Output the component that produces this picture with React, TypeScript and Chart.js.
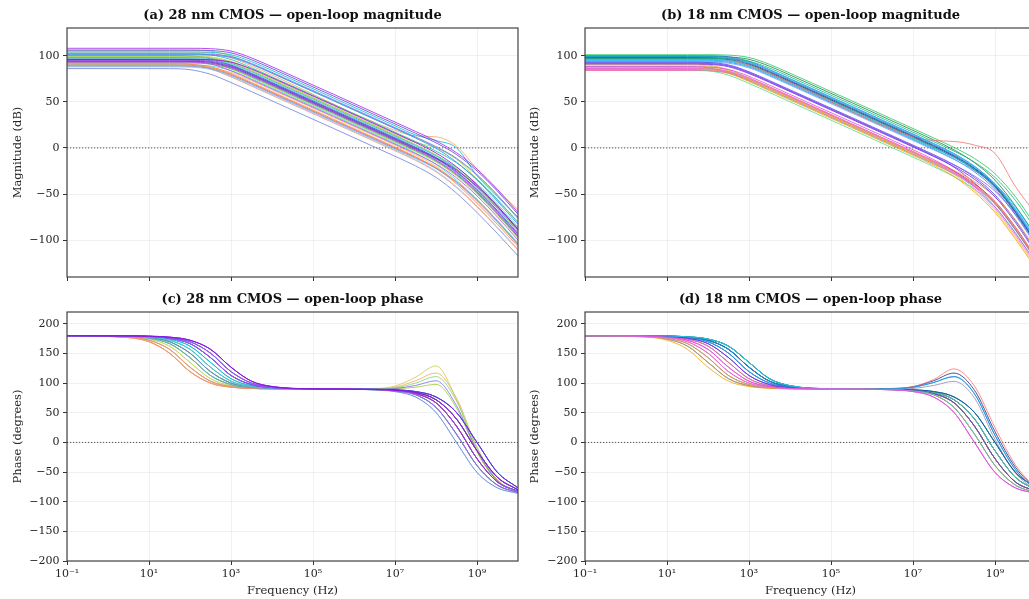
import { useEffect, useRef } from "react";
import { Chart, registerables } from "chart.js";

Chart.register(...registerables);

// Frequency knots (Hz) at which each curve is sampled
const MAG_FREQ = [0.1, 31.62, 100, 316.2, 1000, 3162, 10000, 1e7, 3.162e7, 1e8, 3.162e8, 1e9, 3.162e9, 1e10];
const PHASE_FREQ = [0.1, 3.162, 10, 31.62, 100, 316.2, 1000, 3162, 10000, 1e5, 3.162e6, 1e7, 3.162e7, 1e8, 3.162e8, 1e9, 3.162e9, 1e10];

const FREQ_TICKS = [1e-1, 1e1, 1e3, 1e5, 1e7, 1e9];
const MAG_TICKS = [-100, -50, 0, 50, 100];
const PHASE_TICKS = [-200, -150, -100, -50, 0, 50, 100, 150, 200];

const COLORS_28 = [
  "#e8603c", "#f4a460", "#ffb347", "#c8c84a", "#b5e655", "#7fd36b", "#4caf50", "#3cb371",
  "#66cdaa", "#20b2aa", "#40e0d0", "#00bcd4", "#87cefa", "#4a90d9", "#3050e0", "#6a7fdb",
  "#e9967a", "#ff7f50", "#9acd32", "#48d1cc", "#6495ed", "#1e90ff",
  "#5b3fd0", "#8a2be2", "#9932cc", "#a020f0", "#7b68ee", "#b048f0", "#9400d3", "#7a1fe0",
];

const MAG_28 = [
  [90, 90, 89.6, 87, 79.6, 70, 60, 0, -10.2, -21.5, -36.5, -56, -79, -104],
  [104, 104, 103.9, 102.8, 97.8, 88.9, 79, 19, 13, 12, 2, -23, -46, -67],
  [88, 88, 87.9, 86.8, 81.8, 72.9, 63, 2.9, -7.5, -20, -37, -58, -81, -105],
  [100, 100, 99.9, 98.8, 93.8, 84.9, 75, 15, 6, 0, -12, -34, -57, -80],
  [96, 96, 95.6, 93, 85.6, 76, 66, 6, -4.2, -15.5, -30.5, -50, -73, -98],
  [106, 106, 105.9, 104.8, 99.8, 90.9, 81, 21, 10.9, 0.5, -12.2, -30, -52, -77],
  [92, 92, 91.9, 90.8, 85.8, 76.9, 67, 7, -3.2, -14.5, -29.5, -49, -72, -97],
  [100, 100, 99.6, 97, 89.6, 80, 70, 10, -0.1, -10.5, -23.2, -41, -63, -88],
  [94, 94, 93.9, 92.8, 87.8, 78.9, 69, 9, -1.2, -12.5, -27.5, -47, -70, -95],
  [102, 102, 101.9, 100.8, 95.8, 86.9, 77, 17, 6.9, -3.5, -16.2, -34, -56, -81],
  [90, 90, 89.9, 88.8, 83.8, 74.9, 65, 4.9, -5.5, -18, -35, -56, -79, -103],
  [104, 104, 104, 103.6, 101, 93.6, 84, 24, 14, 8, 0, -30, -53, -75],
  [88, 88, 87.6, 85, 77.6, 68, 58, -2.1, -12.5, -25, -42, -63, -86, -110],
  [98, 98, 97.9, 96.8, 91.8, 82.9, 73, 13, 2.8, -8.5, -23.5, -43, -66, -91],
  [96, 96, 95.9, 94.8, 89.8, 80.9, 71, 11, 0.8, -10.5, -25.5, -45, -68, -93],
  [86, 85.9, 84.8, 79.8, 70.9, 61, 51, -9.1, -19.5, -32, -49, -70, -93, -117],
  [92, 91.9, 90.8, 85.8, 76.9, 67, 57, -3.1, -13.5, -26, -43, -64, -87, -111],
  [91, 91, 90.6, 88, 80.6, 71, 61, 0.9, -9.5, -22, -39, -60, -83, -107],
  [99, 99, 98.9, 97.8, 92.8, 83.9, 74, 14, 3.8, -7.5, -22.5, -42, -65, -90],
  [97, 97, 96.9, 95.8, 90.8, 81.9, 72, 12, 1.9, -8.5, -21.2, -39, -61, -86],
  [89, 89, 88.6, 86, 78.6, 69, 59, -1, -11.2, -22.5, -37.5, -57, -80, -105],
  [101, 101, 101, 100.6, 98, 90.6, 81, 21, 10.8, -0.5, -15.5, -35, -58, -83],
  [106, 106, 106, 105.6, 103, 95.6, 86, 26, 15.9, 5.5, -7.2, -25, -47, -72],
  [95, 95, 94.9, 93.8, 88.8, 79.9, 70, 10, -0.2, -11.5, -26.5, -46, -69, -94],
  [93, 93, 92.9, 91.8, 86.8, 77.9, 68, 8, -2.2, -13.5, -28.5, -48, -71, -96],
  [108, 108, 108, 107.6, 105, 97.6, 88, 28, 17.9, 7.5, -5.2, -23, -45, -70],
  [102, 102, 102, 101.6, 99, 91.6, 82, 22, 11.9, 1.5, -11.2, -29, -51, -76],
  [94, 94, 93.6, 91, 83.6, 74, 64, 4, -6.2, -17.5, -32.5, -52, -75, -100],
  [96, 96, 96, 95.6, 93, 85.6, 76, 16, 5.8, -5.5, -20.5, -40, -63, -88],
  [94, 94, 93.9, 92.8, 87.8, 78.9, 69, 9, -1.1, -11.5, -24.2, -42, -64, -89],
];

const PHASE_28 = [
  [179.9, 176.8, 169.9, 150.6, 119.4, 100.1, 93.2, 91.0, 90.3, 90.1, 89.2, 87.6, 82.5, 66.8, 27.5, -27.5, -66.8, -82.5],
  [179.9, 177.6, 172.4, 157.1, 126.9, 103.3, 94.3, 91.4, 90.4, 90.2, 90.5, 93, 104, 117, 75, -8, -63, -83],
  [179.9, 176.8, 169.9, 150.6, 119.4, 100.1, 93.2, 91.0, 90.3, 90.1, 89.0, 86.8, 80.5, 59, 14, -39, -72, -84.5],
  [179.9, 178.2, 174.3, 162.5, 135, 107.5, 95.7, 91.8, 90.6, 90.2, 91, 95, 110, 129, 72, -15, -66, -84],
  [179.9, 178.2, 174.3, 162.5, 135, 107.5, 95.7, 91.8, 90.6, 90.2, 89.2, 87.6, 82.5, 66.8, 27.5, -27.5, -66.8, -82.5],
  [180, 178.6, 175.7, 166.7, 143.1, 112.9, 97.6, 92.4, 90.8, 90.2, 90.5, 92, 100, 111, 70, -10, -64, -83],
  [180, 179, 176.8, 169.9, 150.6, 119.4, 100.1, 93.2, 91.0, 90.2, 89.0, 86.8, 80.5, 59, 14, -39, -72, -84.5],
  [180, 179, 176.8, 169.9, 150.6, 119.4, 100.1, 93.2, 91.0, 90.2, 89.4, 88.2, 84.3, 72, 39.5, -14, -59, -80],
  [180, 178.6, 175.7, 166.7, 143.1, 112.9, 97.6, 92.4, 90.8, 90.2, 89.2, 87.6, 82.5, 66.8, 27.5, -27.5, -66.8, -82.5],
  [180, 179.4, 178.2, 174.3, 162.5, 135, 107.5, 95.7, 91.8, 90.3, 89.4, 88.2, 84.3, 72, 39.5, -14, -59, -80],
  [180, 179.2, 177.6, 172.4, 157.1, 126.9, 103.3, 94.3, 91.4, 90.2, 89.0, 86.8, 80.5, 59, 14, -39, -72, -84.5],
  [180, 179.4, 178.2, 174.3, 162.5, 135, 107.5, 95.7, 91.8, 90.3, 89.6, 88.7, 85.8, 76.7, 50.5, 0, -50.5, -76.7],
  [179.9, 177.6, 172.4, 157.1, 126.9, 103.3, 94.3, 91.4, 90.4, 90.1, 88.7, 85.8, 76.7, 50.5, 0, -50.5, -76.7, -85.8],
  [180, 179.2, 177.6, 172.4, 157.1, 126.9, 103.3, 94.3, 91.4, 90.2, 89.2, 87.6, 82.5, 66.8, 27.5, -27.5, -66.8, -82.5],
  [180, 179.6, 178.6, 175.7, 166.7, 143.1, 112.9, 97.6, 92.4, 90.3, 89.4, 88.2, 84.3, 72, 39.5, -14, -59, -80],
  [180, 179, 176.8, 169.9, 150.6, 119.4, 100.1, 93.2, 91.0, 90.1, 88.7, 85.8, 76.7, 50.5, 0, -50.5, -76.7, -85.8],
  [179.9, 176.8, 169.9, 150.6, 119.4, 100.1, 93.2, 91.0, 90.3, 90.1, 89.4, 88.2, 84.3, 72, 39.5, -14, -59, -80],
  [179.9, 177.6, 172.4, 157.1, 126.9, 103.3, 94.3, 91.4, 90.4, 90.2, 89.2, 87.6, 82.5, 66.8, 27.5, -27.5, -66.8, -82.5],
  [180, 178.6, 175.7, 166.7, 143.1, 112.9, 97.6, 92.4, 90.8, 90.2, 90, 90.5, 93, 98, 58, -16, -65, -83],
  [180, 179.2, 177.6, 172.4, 157.1, 126.9, 103.3, 94.3, 91.4, 90.2, 89.4, 88.2, 84.3, 72, 39.5, -14, -59, -80],
  [180, 178.6, 175.7, 166.7, 143.1, 112.9, 97.6, 92.4, 90.8, 90.2, 89.0, 86.8, 80.5, 59, 14, -39, -72, -84.5],
  [180, 179.6, 178.6, 175.7, 166.7, 143.1, 112.9, 97.6, 92.4, 90.3, 89.6, 88.7, 85.8, 76.7, 50.5, 0, -50.5, -76.7],
  [180, 179.7, 179, 176.8, 169.9, 150.6, 119.4, 100.1, 93.2, 90.3, 89.6, 88.7, 85.8, 76.7, 50.5, 0, -50.5, -76.7],
  [180, 179.6, 178.6, 175.7, 166.7, 143.1, 112.9, 97.6, 92.4, 90.3, 89.2, 87.6, 82.5, 66.8, 27.5, -27.5, -66.8, -82.5],
  [180, 179.7, 179, 176.8, 169.9, 150.6, 119.4, 100.1, 93.2, 90.3, 89.4, 88.2, 84.3, 72, 39.5, -14, -59, -80],
  [180, 179.8, 179.2, 177.6, 172.4, 157.1, 126.9, 103.3, 94.3, 90.4, 89.2, 87.6, 82.5, 66.8, 27.5, -27.5, -66.8, -82.5],
  [180, 179.7, 179, 176.8, 169.9, 150.6, 119.4, 100.1, 93.2, 90.3, 90, 91, 96, 104, 62, -14, -65, -83],
  [180, 179.6, 178.6, 175.7, 166.7, 143.1, 112.9, 97.6, 92.4, 90.3, 89.0, 86.8, 80.5, 59, 14, -39, -72, -84.5],
  [180, 179.8, 179.2, 177.6, 172.4, 157.1, 126.9, 103.3, 94.3, 90.4, 89.4, 88.2, 84.3, 72, 39.5, -14, -59, -80],
  [180, 179.8, 179.2, 177.6, 172.4, 157.1, 126.9, 103.3, 94.3, 90.4, 89.6, 88.7, 85.8, 76.7, 50.5, 0, -50.5, -76.7],
];

const COLORS_18 = [
  "#22c55e", "#15803d", "#2563eb", "#1e2a78", "#3b82f6", "#60a5fa", "#4f46e5", "#7c3aed",
  "#0d9488", "#06b6d4", "#e11d48", "#ec4899", "#f87171", "#a3e635", "#facc15", "#fb923c",
  "#8b8fa8", "#8b5cf6", "#4ade80", "#1e3a8a",
  "#0ea5e9", "#10b981", "#6d28d9", "#f59e0b", "#fb7185", "#38bdf8",
  "#e879f9", "#d946ef",
];

const MAG_18 = [
  [101, 101, 101, 100.6, 98, 90.6, 81, 21, 10.9, 0.5, -11.5, -28, -53, -85],
  [99, 99, 99, 98.6, 96, 88.6, 79, 19, 8.8, -2.2, -16, -35, -63, -96],
  [100, 100, 99.9, 98.8, 93.8, 84.9, 75, 15, 4.8, -6.2, -20, -39, -67, -100],
  [97, 97, 96.9, 95.8, 90.8, 81.9, 72, 12, 1.8, -9.2, -23, -42, -70, -103],
  [94, 94, 93.9, 92.8, 87.8, 78.9, 69, 9, -1.2, -12.2, -26, -45, -73, -106],
  [93, 93, 92.9, 91.8, 86.8, 77.9, 68, 8, -2.1, -12.5, -24.5, -41, -66, -98],
  [93, 93, 92.6, 90, 82.6, 73, 63, 3, -7.2, -18.2, -32, -51, -79, -112],
  [92, 92, 91.6, 89, 81.6, 72, 62, 1.9, -8.6, -21, -38, -60, -89, -121],
  [96, 96, 95.9, 94.8, 89.8, 80.9, 71, 11, 0.8, -10.2, -24, -43, -71, -104],
  [95, 95, 94.9, 93.8, 88.8, 79.9, 70, 10, -0.1, -10.5, -22.5, -39, -64, -96],
  [86, 86, 85.6, 83, 75.6, 66, 56, -4, -14.2, -25.2, -39, -58, -86, -119],
  [84, 84, 83.6, 81, 73.6, 64, 54, -6, -16.2, -27.2, -41, -60, -88, -121],
  [96, 96, 95.9, 94.8, 89.8, 80.9, 71, 12, 8, 7, 3, -6, -42, -72],
  [90, 89.9, 88.8, 83.8, 74.9, 65, 55, -5, -15.2, -26.2, -40, -59, -87, -120],
  [89, 88.9, 87.8, 82.8, 73.9, 64, 54, -6.1, -16.6, -29, -46, -68, -97, -129],
  [91, 90.9, 89.8, 84.8, 75.9, 66, 56, -4, -14.1, -24.5, -36.5, -53, -78, -110],
  [88, 87.9, 86.8, 81.8, 72.9, 63, 53, -7, -17.2, -28.2, -42, -61, -89, -122],
  [92, 92, 91.6, 89, 81.6, 72, 62, 2, -8.1, -18.5, -30.5, -47, -72, -104],
  [85, 84.9, 83.8, 78.8, 69.9, 60, 50, -10, -20.2, -31.2, -45, -64, -92, -125],
  [98, 98, 97.9, 96.8, 91.8, 82.9, 73, 13, 2.8, -8.2, -22, -41, -69, -102],
  [99, 99, 98.9, 97.8, 92.8, 83.9, 74, 14, 3.8, -7.2, -21, -40, -68, -101],
  [97, 97, 97, 96.6, 94, 86.6, 77, 17, 6.9, -3.5, -15.5, -32, -57, -89],
  [91, 91, 90.6, 88, 80.6, 71, 61, 1, -9.2, -20.2, -34, -53, -81, -114],
  [87, 86.9, 85.8, 80.8, 71.9, 62, 52, -8.1, -18.6, -31, -48, -70, -99, -131],
  [85, 85, 84.6, 82, 74.6, 65, 55, -5, -15.2, -26.2, -40, -59, -87, -120],
  [95, 95, 95, 94.6, 92, 84.6, 75, 15, 4.8, -6.2, -20, -39, -67, -100],
  [86, 86, 85.6, 83, 75.6, 66, 56, -4.1, -14.6, -27, -44, -66, -95, -127],
  [88, 88, 87.6, 85, 77.6, 68, 58, -2, -12.6, -25, -42, -64, -93, -125],
];

const PHASE_18 = [
  [180, 179.8, 179.4, 178.2, 174.3, 162.5, 135, 107.5, 95.7, 90.5, 89.6, 88.7, 85.8, 76.7, 50.5, 0, -50.5, -76.7],
  [180, 179.8, 179.2, 177.6, 172.4, 157.1, 126.9, 103.3, 94.3, 90.4, 89.4, 88.2, 84.3, 72, 39.5, -14, -59, -80],
  [180, 179.8, 179.4, 178.2, 174.3, 162.5, 135, 107.5, 95.7, 90.5, 90.5, 93, 101, 111, 82, 12, -46, -80],
  [180, 179.8, 179.2, 177.6, 172.4, 157.1, 126.9, 103.3, 94.3, 90.4, 91, 94, 104, 117, 88, 18, -42, -79],
  [180, 179.7, 179, 176.8, 169.9, 150.6, 119.4, 100.1, 93.2, 90.3, 89.4, 88.2, 84.3, 72, 39.5, -14, -59, -80],
  [180, 179.6, 178.6, 175.7, 166.7, 143.1, 112.9, 97.6, 92.4, 90.3, 89.6, 88.7, 85.8, 76.7, 50.5, 0, -50.5, -76.7],
  [180, 179.4, 178.2, 174.3, 162.5, 135, 107.5, 95.7, 91.8, 90.3, 89.2, 87.6, 82.5, 66.8, 27.5, -27.5, -66.8, -82.5],
  [180, 179.7, 179, 176.8, 169.9, 150.6, 119.4, 100.1, 93.2, 90.3, 89.2, 87.6, 82.5, 66.8, 27.5, -27.5, -66.8, -82.5],
  [180, 179.8, 179.4, 178.2, 174.3, 162.5, 135, 107.5, 95.7, 90.5, 89.4, 88.2, 84.3, 72, 39.5, -14, -59, -80],
  [180, 179.7, 179, 176.8, 169.9, 150.6, 119.4, 100.1, 93.2, 90.3, 89.6, 88.7, 85.8, 76.7, 50.5, 0, -50.5, -76.7],
  [180, 179, 176.8, 169.9, 150.6, 119.4, 100.1, 93.2, 91.0, 90.2, 89.2, 87.6, 82.5, 66.8, 27.5, -27.5, -66.8, -82.5],
  [180, 179.2, 177.6, 172.4, 157.1, 126.9, 103.3, 94.3, 91.4, 90.2, 89.0, 86.8, 80.5, 59, 14, -39, -72, -84.5],
  [180, 179.4, 178.2, 174.3, 162.5, 135, 107.5, 95.7, 91.8, 90.3, 91, 94, 106, 124, 95, 25, -38, -78],
  [179.9, 178.2, 174.3, 162.5, 135, 107.5, 95.7, 91.8, 90.6, 90.2, 89.0, 86.8, 80.5, 59, 14, -39, -72, -84.5],
  [180, 178.6, 175.7, 166.7, 143.1, 112.9, 97.6, 92.4, 90.8, 90.2, 89.2, 87.6, 82.5, 66.8, 27.5, -27.5, -66.8, -82.5],
  [179.9, 178.2, 174.3, 162.5, 135, 107.5, 95.7, 91.8, 90.6, 90.2, 89.2, 87.6, 82.5, 66.8, 27.5, -27.5, -66.8, -82.5],
  [179.9, 178.2, 174.3, 162.5, 135, 107.5, 95.7, 91.8, 90.6, 90.2, 90, 91, 96, 103, 75, 5, -52, -81],
  [180, 179.6, 178.6, 175.7, 166.7, 143.1, 112.9, 97.6, 92.4, 90.3, 89.4, 88.2, 84.3, 72, 39.5, -14, -59, -80],
  [180, 178.6, 175.7, 166.7, 143.1, 112.9, 97.6, 92.4, 90.8, 90.2, 89.4, 88.2, 84.3, 72, 39.5, -14, -59, -80],
  [180, 179.8, 179.2, 177.6, 172.4, 157.1, 126.9, 103.3, 94.3, 90.4, 89.6, 88.7, 85.8, 76.7, 50.5, 0, -50.5, -76.7],
  [180, 179.8, 179.2, 177.6, 172.4, 157.1, 126.9, 103.3, 94.3, 90.4, 90.5, 93, 101, 111, 82, 12, -46, -80],
  [180, 179.8, 179.4, 178.2, 174.3, 162.5, 135, 107.5, 95.7, 90.5, 89.2, 87.6, 82.5, 66.8, 27.5, -27.5, -66.8, -82.5],
  [180, 179.6, 178.6, 175.7, 166.7, 143.1, 112.9, 97.6, 92.4, 90.3, 89.2, 87.6, 82.5, 66.8, 27.5, -27.5, -66.8, -82.5],
  [179.9, 177.6, 172.4, 157.1, 126.9, 103.3, 94.3, 91.4, 90.4, 90.2, 89.0, 86.8, 80.5, 59, 14, -39, -72, -84.5],
  [180, 178.6, 175.7, 166.7, 143.1, 112.9, 97.6, 92.4, 90.8, 90.1, 88.7, 85.8, 76.7, 50.5, 0, -50.5, -76.7, -85.8],
  [180, 179.8, 179.4, 178.2, 174.3, 162.5, 135, 107.5, 95.7, 90.5, 89.0, 86.8, 80.5, 59, 14, -39, -72, -84.5],
  [180, 179, 176.8, 169.9, 150.6, 119.4, 100.1, 93.2, 91.0, 90.1, 88.7, 85.8, 76.7, 50.5, 0, -50.5, -76.7, -85.8],
  [180, 179.2, 177.6, 172.4, 157.1, 126.9, 103.3, 94.3, 91.4, 90.1, 88.7, 85.8, 76.7, 50.5, 0, -50.5, -76.7, -85.8],
];

const FONT_FAMILY = '"DejaVu Serif", serif';
const TEXT_COLOR = "#262626";

const SUP: Record<string, string> = {
  "-": "\u207B", "0": "\u2070", "1": "\u00B9", "2": "\u00B2", "3": "\u00B3", "4": "\u2074",
  "5": "\u2075", "6": "\u2076", "7": "\u2077", "8": "\u2078", "9": "\u2079",
};

function freqLabel(v: number): string {
  const e = Math.round(Math.log10(v));
  return "10" + String(e).split("").map((c) => SUP[c] || c).join("");
}

function numLabel(v: number): string {
  return v < 0 ? "\u2212" + Math.abs(v) : String(v);
}

function rgba(hex: string, a: number): string {
  const n = parseInt(hex.slice(1), 16);
  return `rgba(${(n >> 16) & 255},${(n >> 8) & 255},${n & 255},${a})`;
}

const framePlugin = {
  id: "frame",
  beforeDatasetsDraw(chart: any) {
    const { ctx, chartArea: a, scales } = chart;
    const y0 = scales.y.getPixelForValue(0);
    ctx.save();
    ctx.beginPath();
    ctx.setLineDash([1.2, 1.8]);
    ctx.strokeStyle = "rgba(60,60,60,0.9)";
    ctx.lineWidth = 1;
    ctx.moveTo(a.left, y0);
    ctx.lineTo(a.right, y0);
    ctx.stroke();
    ctx.restore();
  },
  afterDraw(chart: any, _args: any, opts: any) {
    const { ctx, chartArea: a } = chart;
    ctx.save();
    ctx.strokeStyle = "#444";
    ctx.lineWidth = 1.2;
    ctx.strokeRect(a.left, a.top, a.right - a.left, a.bottom - a.top);
    ctx.font = `bold 13px ${FONT_FAMILY}`;
    ctx.fillStyle = "#111";
    ctx.textAlign = "center";
    ctx.textBaseline = "middle";
    ctx.fillText(opts.title, (a.left + a.right) / 2, a.top - 12);
    ctx.restore();
  },
};

type Spec = {
  title: string;
  freq: number[];
  curves: number[][];
  colors: string[];
  yMin: number;
  yMax: number;
  yTicks: number[];
  yTitle: string;
  showX: boolean;
  left: number;
  top: number;
  width: number;
  height: number;
  padTop: number;
  padRight: number;
  yAxisWidth: number;
  xAxisHeight: number;
  yTitlePad: number;
};

function Panel({ spec }: { spec: Spec }) {
  const ref = useRef<HTMLCanvasElement>(null);
  useEffect(() => {
    if (!ref.current) return;
    const n = spec.curves.length;
    const datasets = spec.curves.map((vals, i) => ({
      data: vals.map((y, j) => ({ x: spec.freq[j], y })),
      borderColor: rgba(spec.colors[i], 0.8),
      borderWidth: 1,
      pointRadius: 0,
      fill: false,
      cubicInterpolationMode: "monotone" as const,
      order: n - i,
    }));
    const tickFont = { family: FONT_FAMILY, size: 11 };
    const titleFont = { family: FONT_FAMILY, size: 11.5 };
    const grid = {
      color: "rgba(0,0,0,0.07)",
      lineWidth: 0.8,
      tickLength: 4,
      tickColor: "#333",
      tickWidth: 1,
      drawTicks: true,
    };
    const chart = new Chart(ref.current, {
      type: "line",
      data: { datasets },
      plugins: [framePlugin],
      options: {
        responsive: false,
        maintainAspectRatio: false,
        animation: false,
        events: [],
        layout: { padding: { top: spec.padTop, right: spec.padRight, left: 0, bottom: 0 } },
        plugins: {
          legend: { display: false },
          tooltip: { enabled: false },
          title: { display: false },
          frame: { title: spec.title },
        } as any,
        scales: {
          x: {
            type: "logarithmic",
            min: 0.1,
            max: 1e10,
            afterBuildTicks: (s: any) => {
              s.ticks = FREQ_TICKS.map((v) => ({ value: v }));
            },
            afterFit: (s: any) => {
              s.height = spec.xAxisHeight;
            },
            grid,
            border: { display: false },
            ticks: {
              display: spec.showX,
              autoSkip: false,
              maxRotation: 0,
              padding: 3,
              color: TEXT_COLOR,
              font: tickFont,
              callback: (v: any) => freqLabel(Number(v)),
            },
            title: {
              display: spec.showX,
              text: "Frequency (Hz)",
              color: TEXT_COLOR,
              font: titleFont,
              padding: { top: 0, bottom: 1 },
            },
          },
          y: {
            type: "linear",
            min: spec.yMin,
            max: spec.yMax,
            afterBuildTicks: (s: any) => {
              s.ticks = spec.yTicks.map((v) => ({ value: v }));
            },
            afterFit: (s: any) => {
              s.width = spec.yAxisWidth;
            },
            grid,
            border: { display: false },
            ticks: {
              padding: 3.5,
              color: TEXT_COLOR,
              font: tickFont,
              callback: (v: any) => numLabel(Number(v)),
            },
            title: {
              display: true,
              text: spec.yTitle,
              color: TEXT_COLOR,
              font: titleFont,
              padding: { top: spec.yTitlePad, bottom: 0 },
            },
          },
        },
      } as any,
    });
    return () => chart.destroy();
  }, [spec]);
  return (
    <canvas
      ref={ref}
      width={spec.width}
      height={spec.height}
      style={{ position: "absolute", left: spec.left, top: spec.top, width: spec.width, height: spec.height }}
    />
  );
}

const PANELS: Spec[] = [
  {
    title: "(a) 28 nm CMOS \u2014 open-loop magnitude",
    freq: MAG_FREQ, curves: MAG_28, colors: COLORS_28,
    yMin: -140, yMax: 130, yTicks: MAG_TICKS, yTitle: "Magnitude (dB)", showX: false,
    left: 0, top: 0, width: 530, height: 290, padTop: 28, padRight: 12,
    yAxisWidth: 67, xAxisHeight: 13, yTitlePad: 11,
  },
  {
    title: "(b) 18 nm CMOS \u2014 open-loop magnitude",
    freq: MAG_FREQ, curves: MAG_18, colors: COLORS_18,
    yMin: -140, yMax: 130, yTicks: MAG_TICKS, yTitle: "Magnitude (dB)", showX: false,
    left: 515, top: 0, width: 535, height: 290, padTop: 28, padRight: 14,
    yAxisWidth: 70, xAxisHeight: 13, yTitlePad: 13,
  },
  {
    title: "(c) 28 nm CMOS \u2014 open-loop phase",
    freq: PHASE_FREQ, curves: PHASE_28, colors: COLORS_28,
    yMin: -200, yMax: 220, yTicks: PHASE_TICKS, yTitle: "Phase (degrees)", showX: true,
    left: 0, top: 290, width: 530, height: 309, padTop: 22, padRight: 12,
    yAxisWidth: 67, xAxisHeight: 38, yTitlePad: 11,
  },
  {
    title: "(d) 18 nm CMOS \u2014 open-loop phase",
    freq: PHASE_FREQ, curves: PHASE_18, colors: COLORS_18,
    yMin: -200, yMax: 220, yTicks: PHASE_TICKS, yTitle: "Phase (degrees)", showX: true,
    left: 515, top: 290, width: 535, height: 309, padTop: 22, padRight: 14,
    yAxisWidth: 70, xAxisHeight: 38, yTitlePad: 13,
  },
];

export default function App() {
  return (
    <div
      style={{
        position: "fixed",
        left: 0,
        top: 0,
        width: 1029,
        height: 599,
        overflow: "hidden",
        background: "#ffffff",
      }}
    >
      {PANELS.map((p) => (
        <Panel key={p.title} spec={p} />
      ))}
    </div>
  );
}
